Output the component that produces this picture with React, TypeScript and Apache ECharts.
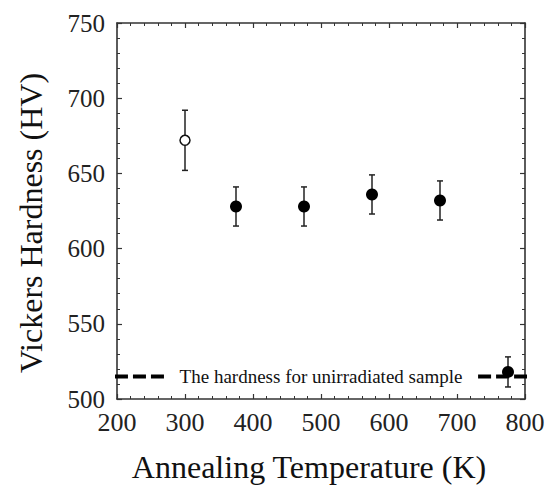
import React, { useEffect, useRef } from "react";
import * as echarts from "echarts";

const temperaturesFilled = [375, 475, 575, 675, 775];
const hardnessFilled = [628, 628, 636, 632, 518];
const errFilled = [13, 13, 13, 13, 10];
const temperatureOpen = [300];
const hardnessOpen = [672];
const errOpen = [20];
const xTicks = [200, 300, 400, 500, 600, 700, 800];
const yTicks = [500, 550, 600, 650, 700, 750];
const refHardness = 515;
const refLeftSeg = [197, 271];
const refRightSeg = [731, 807];
const refLabel = "The hardness for unirradiated sample";
const refLabelX = 500;

const FONT = "Liberation Serif";

export default function App() {
  const ref = useRef<HTMLDivElement>(null);
  useEffect(() => {
    document.body.style.margin = "0";
    const chart = echarts.init(ref.current!, null, { renderer: "svg" });
    const errData = [
      ...temperatureOpen.map((t, i) => [t, hardnessOpen[i] - errOpen[i], hardnessOpen[i] + errOpen[i]]),
      ...temperaturesFilled.map((t, i) => [t, hardnessFilled[i] - errFilled[i], hardnessFilled[i] + errFilled[i]]),
    ];
    const axisCommon = {
      type: "value" as const,
      axisLine: { show: true, lineStyle: { color: "#333", width: 1.6 } },
      axisTick: { show: true, inside: true, length: 5, lineStyle: { color: "#333", width: 1.2 } },
      minorTick: { show: true, splitNumber: 5, length: 3, lineStyle: { color: "#333", width: 1 } },
      splitLine: { show: false },
    };
    chart.setOption({
      animation: false,
      backgroundColor: "#fff",
      grid: { left: 117, right: 26, top: 23, bottom: 84 },
      xAxis: [
        {
          ...axisCommon,
          min: xTicks[0],
          max: xTicks[xTicks.length - 1],
          interval: 100,
          position: "bottom",
          axisLabel: { color: "#222", fontFamily: FONT, fontSize: 26, margin: 10 },
          name: "Annealing Temperature (K)",
          nameLocation: "middle",
          nameGap: 52,
          nameTextStyle: { color: "#111", fontFamily: FONT, fontSize: 32, padding: [0, 24, 0, 0] },
        },
        {
          ...axisCommon,
          min: xTicks[0],
          max: xTicks[xTicks.length - 1],
          interval: 100,
          position: "top",
          axisLabel: { show: false },
        },
      ],
      yAxis: [
        {
          ...axisCommon,
          min: yTicks[0],
          max: yTicks[yTicks.length - 1],
          interval: 50,
          position: "left",
          axisLabel: { color: "#222", fontFamily: FONT, fontSize: 25, margin: 12 },
          name: "Vickers Hardness (HV)",
          nameLocation: "middle",
          nameGap: 70,
          nameTextStyle: { color: "#111", fontFamily: FONT, fontSize: 32, padding: [0, 24, 0, 0] },
        },
        {
          ...axisCommon,
          min: yTicks[0],
          max: yTicks[yTicks.length - 1],
          interval: 50,
          position: "right",
          axisLabel: { show: false },
        },
      ],
      series: [
        {
          type: "line",
          data: refLeftSeg.map((x) => [x, refHardness]),
          symbol: "none",
          clip: false,
          lineStyle: { color: "#000", width: 4, type: [13, 5] },
          z: 3,
        },
        {
          type: "line",
          data: refRightSeg.map((x) => [x, refHardness]),
          symbol: "none",
          clip: false,
          lineStyle: { color: "#000", width: 4, type: [13, 5] },
          z: 3,
        },
        {
          type: "custom",
          data: [[refLabelX, refHardness]],
          clip: false,
          renderItem: (params: any, api: any) => {
            const p = api.coord([api.value(0), api.value(1)]);
            return {
              type: "text",
              x: p[0],
              y: p[1],
              style: {
                text: refLabel,
                fill: "#111",
                font: `19px "${FONT}"`,
                align: "center",
                verticalAlign: "middle",
              },
            };
          },
          z: 4,
        },
        {
          type: "custom",
          data: errData,
          clip: false,
          renderItem: (params: any, api: any) => {
            const x = api.value(0);
            const lo = api.coord([x, api.value(1)]);
            const hi = api.coord([x, api.value(2)]);
            const cap = 3;
            const style = { stroke: "#222", lineWidth: 1.5 };
            return {
              type: "group",
              children: [
                { type: "line", shape: { x1: lo[0], y1: lo[1], x2: hi[0], y2: hi[1] }, style },
                { type: "line", shape: { x1: lo[0] - cap, y1: lo[1], x2: lo[0] + cap, y2: lo[1] }, style },
                { type: "line", shape: { x1: hi[0] - cap, y1: hi[1], x2: hi[0] + cap, y2: hi[1] }, style },
              ],
            };
          },
          z: 5,
        },
        {
          type: "scatter",
          data: temperaturesFilled.map((t, i) => [t, hardnessFilled[i]]),
          symbol: "circle",
          symbolSize: 12,
          itemStyle: { color: "#000", opacity: 1 },
          z: 6,
        },
        {
          type: "scatter",
          data: temperatureOpen.map((t, i) => [t, hardnessOpen[i]]),
          symbol: "circle",
          symbolSize: 10,
          itemStyle: { color: "#fff", borderColor: "#111", borderWidth: 1.5, opacity: 1 },
          z: 6,
        },
      ],
    });
    return () => chart.dispose();
  }, []);
  return <div ref={ref} style={{ width: 551, height: 488 }} />;
}
